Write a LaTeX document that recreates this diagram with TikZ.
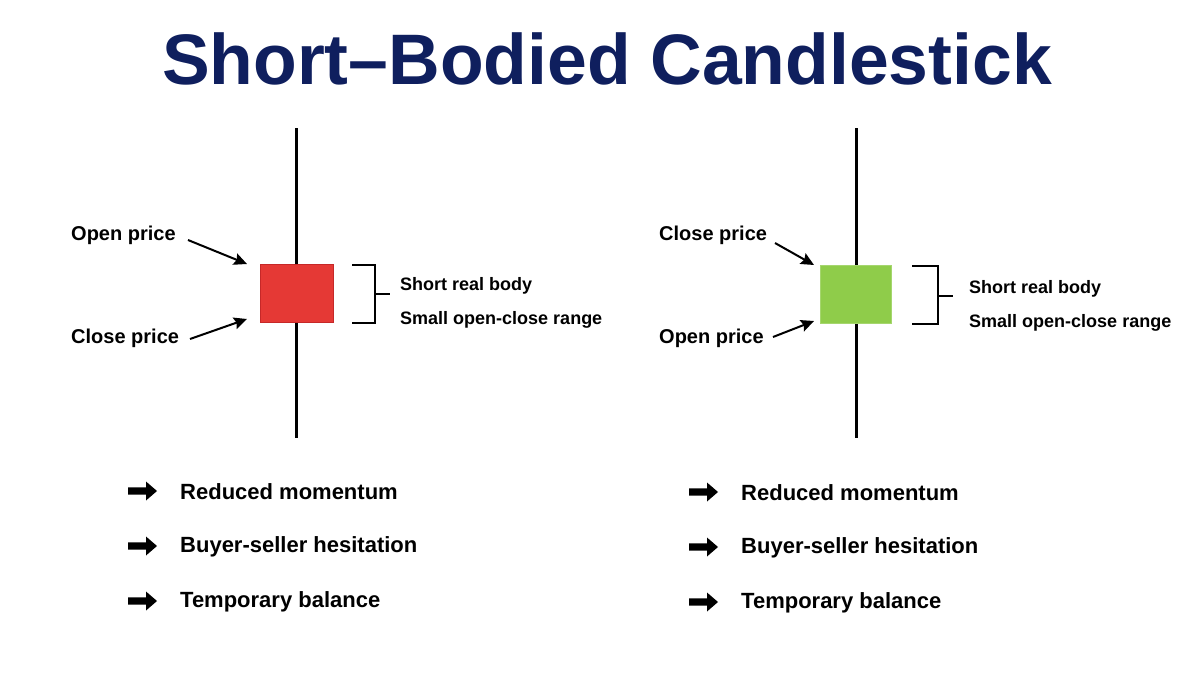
\documentclass[tikz,border=0pt]{standalone}
\usepackage{fontspec}
\setmainfont{Liberation Sans}
\usetikzlibrary{arrows.meta}
\definecolor{navy}{HTML}{0F1F5E}
\definecolor{candlered}{HTML}{E53935}
\definecolor{candleredb}{HTML}{C62828}
\definecolor{candlegreen}{HTML}{8FCC4A}
\definecolor{candlegreenb}{HTML}{A5D66E}
\tikzset{
  wick/.style={line width=3pt, black},
  lbl/.style={inner sep=0pt, anchor=west, font=\fontsize{20}{24}\selectfont\bfseries},
  side/.style={inner sep=0pt, anchor=west, font=\fontsize{18}{22}\selectfont\bfseries},
  bullet/.style={inner sep=0pt, anchor=west, font=\fontsize{22}{27}\selectfont\bfseries},
  ptr/.style={line width=2pt, -{Stealth[length=13pt,width=12pt,inset=2pt]}},
  brace/.style={line width=1.6pt},
  bigarrow/.pic={\fill[black] (0,-3.6) -- (18,-3.6) -- (18,-9.5) -- (29,0) -- (18,9.5) -- (18,3.6) -- (0,3.6) -- cycle;}
}
\begin{document}
\begin{tikzpicture}[x=1pt,y=-1pt]
\useasboundingbox (0,0) rectangle (1196,672);
\fill[white] (0,0) rectangle (1196,672);
% title
\node[inner sep=0pt, anchor=base, text=navy, font=\fontsize{71.5}{80}\selectfont\bfseries] (title) at (607,84) {Short–Bodied Candlestick};

% ---------- left candle ----------
\coordinate (lwt) at (296,128);
\coordinate (lwb) at (296,438);
\draw[wick] (lwt) -- (lwb);
\node[draw=candleredb, fill=candlered, line width=1pt, minimum width=73pt, minimum height=58pt, inner sep=0pt] (lbody) at (296.5,293) {};
\node[lbl] (lopen) at (71,235) {Open price};
\node[lbl] (lclose) at (71,338) {Close price};
\coordinate (lopenA) at (188,240);
\coordinate (lopenB) at (247,264);
\coordinate (lcloseA) at (190,339);
\coordinate (lcloseB) at (247,319);
\draw[ptr] (lopenA) -- (lopenB);
\draw[ptr] (lcloseA) -- (lcloseB);
\coordinate (lbr1) at (352,265);
\coordinate (lbr2) at (375,265);
\coordinate (lbr3) at (375,323);
\coordinate (lbr4) at (352,323);
\coordinate (lbrm) at (375,294);
\coordinate (lbrt) at (390,294);
\draw[brace] (lbr1) -- (lbr2) -- (lbr3) -- (lbr4);
\draw[brace] (lbrm) -- (lbrt);
\node[side] (lshort) at (400,286) {Short real body};
\node[side] (lsmall) at (400,320) {Small open-close range};

% ---------- right candle ----------
\coordinate (rwt) at (856,128);
\coordinate (rwb) at (856,438);
\draw[wick] (rwt) -- (rwb);
\node[draw=candlegreenb, fill=candlegreen, line width=1pt, minimum width=71pt, minimum height=58pt, inner sep=0pt] (rbody) at (856,294) {};
\node[lbl] (rclose) at (659,235) {Close price};
\node[lbl] (ropen) at (659,338) {Open price};
\coordinate (rcloseA) at (775,243);
\coordinate (rcloseB) at (814,265);
\coordinate (ropenA) at (773,337);
\coordinate (ropenB) at (814,321);
\draw[ptr] (rcloseA) -- (rcloseB);
\draw[ptr] (ropenA) -- (ropenB);
\coordinate (rbr1) at (912,266);
\coordinate (rbr2) at (938,266);
\coordinate (rbr3) at (938,324);
\coordinate (rbr4) at (912,324);
\coordinate (rbrm) at (938,296);
\coordinate (rbrt) at (953,296);
\draw[brace] (rbr1) -- (rbr2) -- (rbr3) -- (rbr4);
\draw[brace] (rbrm) -- (rbrt);
\node[side] (rshort) at (969,289) {Short real body};
\node[side] (rsmall) at (969,323) {Small open-close range};

% ---------- bullets ----------
\pic at (128,491) {bigarrow};
\pic at (128,546) {bigarrow};
\pic at (128,601) {bigarrow};
\node[bullet] (l1) at (180,492) {Reduced momentum};
\node[bullet] (l2) at (180,547) {Buyer-seller hesitation};
\node[bullet] (l3) at (180,602) {Temporary balance};
\pic at (689,492) {bigarrow};
\pic at (689,547) {bigarrow};
\pic at (689,602) {bigarrow};
\node[bullet] (r1) at (741,493) {Reduced momentum};
\node[bullet] (r2) at (741,548) {Buyer-seller hesitation};
\node[bullet] (r3) at (741,603) {Temporary balance};
\end{tikzpicture}
\end{document}
